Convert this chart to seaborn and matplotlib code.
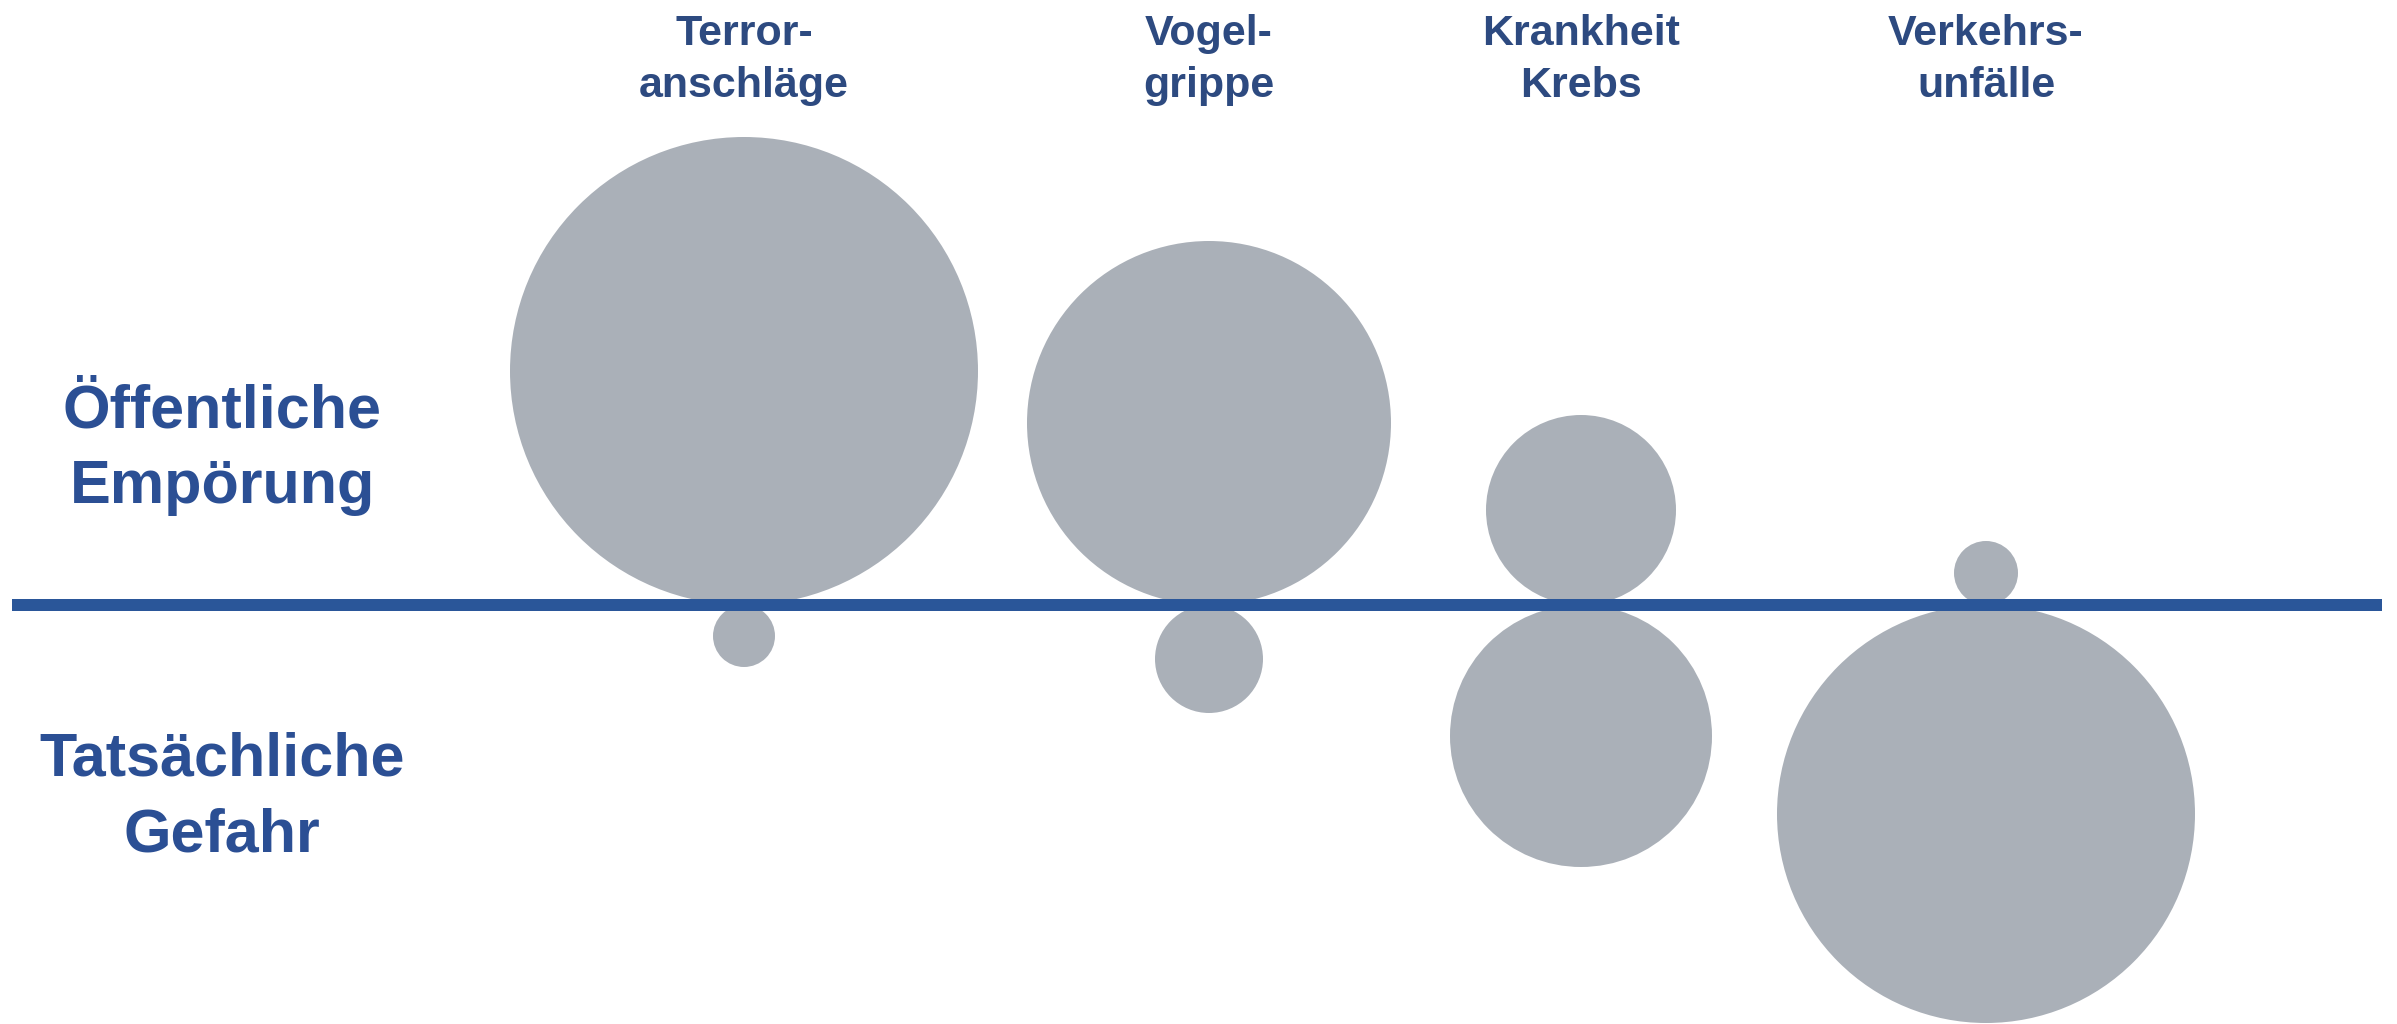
import numpy as np
import pandas as pd
import matplotlib
matplotlib.use("Agg")
import matplotlib.pyplot as plt
import seaborn as sns

# ---- data (radii in chart units) ----
categories = ["Terror-\nanschläge", "Vogel-\ngrippe", "Krankheit\nKrebs", "Verkehrs-\nunfälle"]
outrage = [234, 182, 95, 32]      # public outrage (bubble radius)
danger = [31, 54, 131, 209]       # actual danger (bubble radius)
row_labels = ["Öffentliche\nEmpörung", "Tatsächliche\nGefahr"]

# ---- layout ----
W, H, DPI = 2397, 1024, 100
x_pos = [744, 1209, 1581, 1986]
axis_y = 605
circle_color = "#AAB0B8"
line_color = "#2A5699"
cat_color = "#2D4A80"
row_color = "#2B4F94"

sns.set_theme(style="white")
plt.rcParams["font.family"] = ["Liberation Sans", "DejaVu Sans"]

fig = plt.figure(figsize=(W / DPI, H / DPI), dpi=DPI)
ax = fig.add_axes([0, 0, 1, 1])
ax.set_xlim(0, W)
ax.set_ylim(H, 0)
ax.axis("off")

px_to_pt = 72.0 / DPI
rows = []
for cat, xp, ro, rd in zip(categories, x_pos, outrage, danger):
    rows.append({"cat": cat, "x": xp, "y": axis_y - ro, "r": ro})
    rows.append({"cat": cat, "x": xp, "y": axis_y + rd, "r": rd})
df = pd.DataFrame(rows)
df["s"] = (2 * df["r"] * px_to_pt) ** 2

sns.scatterplot(data=df, x="x", y="y", s=df["s"].values, color=circle_color,
                linewidth=0, edgecolor="none", legend=False, ax=ax, zorder=2)

ax.hlines(axis_y, 12, 2382, color=line_color, linewidth=12 * px_to_pt, zorder=3)

# category labels on top
for cat, xp in zip(categories, x_pos):
    for i, line in enumerate(cat.split("\n")):
        ax.text(xp, 45 + i * 52, line, ha="center", va="baseline",
                fontsize=31, fontweight="bold", color=cat_color)

# row labels on the left
row_baselines = [[428, 503], [775, 852]]
for lab, bases in zip(row_labels, row_baselines):
    for line, b in zip(lab.split("\n"), bases):
        ax.text(222, b, line, ha="center", va="baseline",
                fontsize=44, fontweight="bold", color=row_color)

ax.set_xlabel("")
ax.set_ylabel("")
fig.savefig("out.png", dpi=DPI, facecolor="white")
